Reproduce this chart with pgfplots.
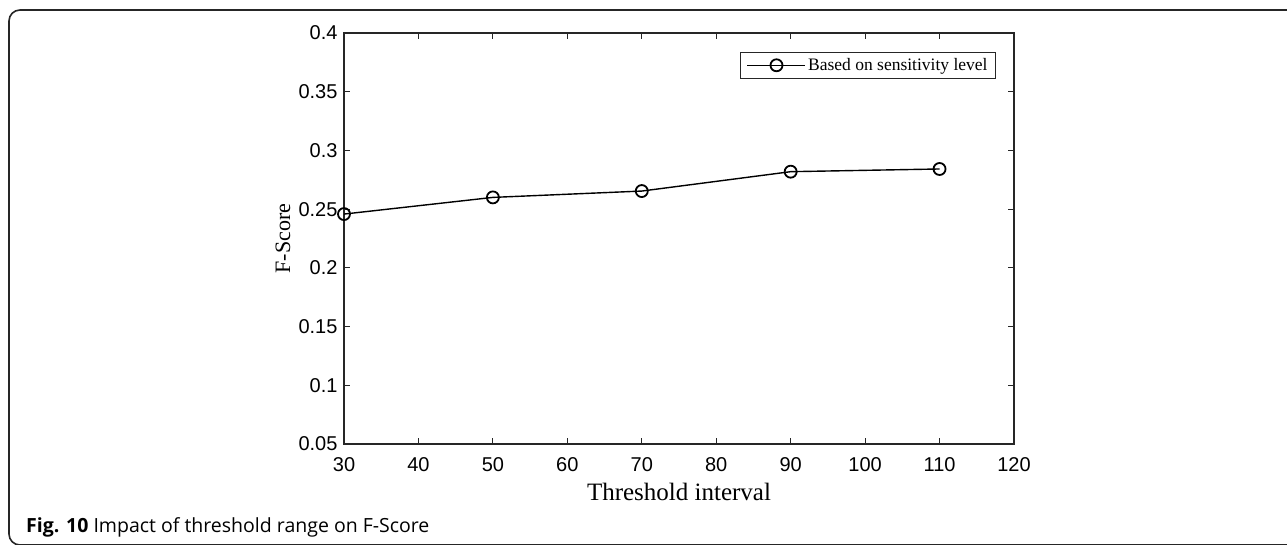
\documentclass[border=0pt]{standalone}
\usepackage{fontspec}
\setmainfont{Liberation Serif}
\newfontfamily\arial{Liberation Sans}
\newfontfamily\capfont{Open Sans}
\usepackage{pgfplots}
\pgfplotsset{compat=1.18}
\definecolor{axgray}{HTML}{262626}
\begin{document}
\begin{tikzpicture}
\path[use as bounding box] (0pt,0pt) rectangle (1287pt,544pt);
\begin{scope}
\clip (0pt,0pt) rectangle (1287pt,544pt);
\draw[line width=1.6pt, black!85, rounded corners=11pt] (9pt,-1pt) rectangle (1300pt,534pt);
\end{scope}
\node[anchor=base west, inner sep=0pt, font=\capfont\fontsize{19.5}{22}\selectfont] at (26pt,12pt) {\textbf{Fig. 10} Impact of threshold range on F-Score};
\begin{axis}[
  at={(344pt,100pt)}, anchor=south west,
  scale only axis, width=670pt, height=411pt,
  xmin=30, xmax=120, ymin=0.05, ymax=0.4,
  xtick={30,40,50,60,70,80,90,100,110,120},
  ytick={0.05,0.1,0.15,0.2,0.25,0.3,0.35,0.4},
  yticklabels={0.05,0.1,0.15,0.2,0.25,0.3,0.35,0.4},
  xticklabels={30,40,50,60,70,80,90,100,110,120},
  tick align=inside, major tick length=6pt,
  axis line style={axgray, line width=1.1pt},
  every tick/.style={axgray, line width=1.1pt},
  tick label style={font=\arial\fontsize{20}{22}\selectfont, text=black},
  xticklabel style={yshift=-10pt},
  yticklabel style={xshift=-3pt},
  xlabel={Threshold interval}, ylabel={F-Score},
  xlabel style={font=\fontsize{25}{28}\selectfont, at={(rel axis cs:0.5,0)}, anchor=base, yshift=-56pt},
  ylabel style={font=\fontsize{22}{25}\selectfont, at={(rel axis cs:0,0.5)}, anchor=center, yshift=61pt},
  legend style={at={(rel axis cs:1,1)}, anchor=north east, xshift=-18pt, yshift=-19pt,
    draw=axgray, line width=0.9pt, inner xsep=6pt, inner ysep=4pt,
    font=\fontsize{17.5}{20}\selectfont},
  legend cell align=left,
  legend image code/.code={\draw[mark repeat=2,mark phase=2,#1] plot coordinates {(0pt,0pt)(29pt,0pt)(58pt,0pt)};},
]
\addplot[black, line width=1.4pt, mark=o, mark size=6pt, mark options={line width=1.8pt}]
  coordinates {(30,0.2458) (50,0.2600) (70,0.2654) (90,0.2819) (110,0.2842)};
\addlegendentry{Based on sensitivity level}
\end{axis}
\end{tikzpicture}
\end{document}
